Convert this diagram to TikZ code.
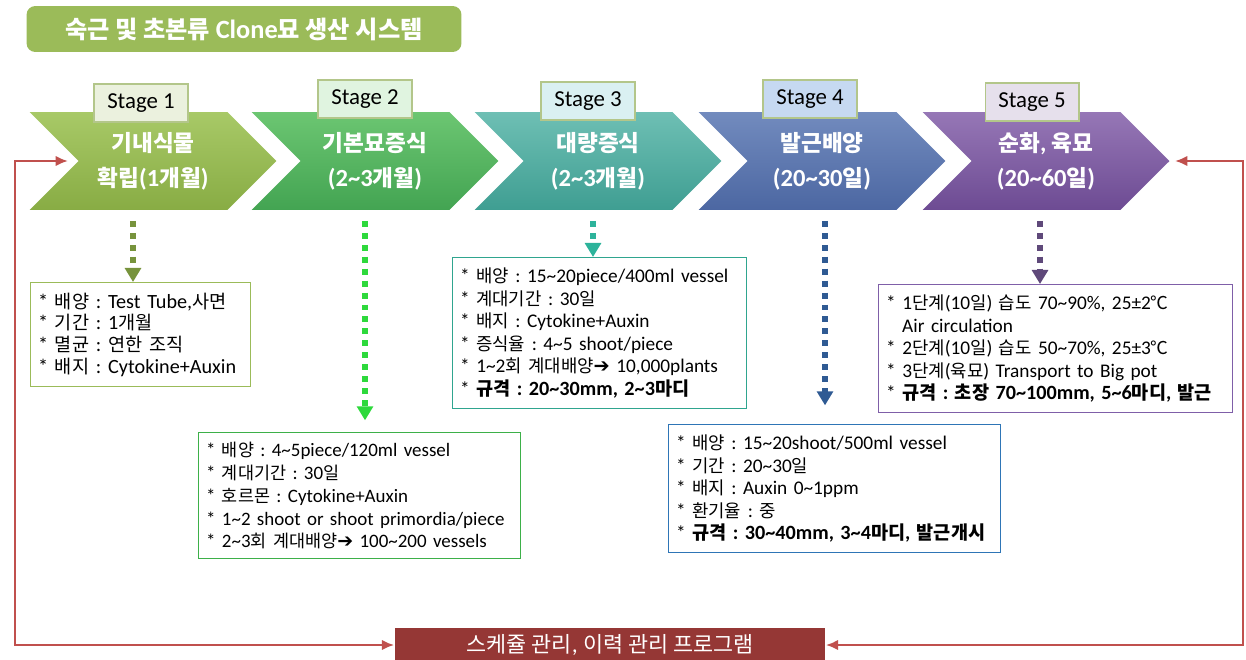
\documentclass[tikz,border=0pt]{standalone}
\usepackage{fontspec}
\setmainfont{Carlito}
\newfontfamily\latfont{Carlito}
\newfontfamily\krfont[Scale=0.92]{Noto Sans CJK KR}
\newfontfamily\symfont{DejaVu Sans}
% Hangul (and a few signs) set in the CJK face, the rest in Carlito
\XeTeXinterchartokenstate=1
\newXeTeXintercharclass\hanclass
\newXeTeXintercharclass\symclass
\newcount\hancode
\hancode="AC00
\loop
  \XeTeXcharclass\hancode=\hanclass
  \ifnum\hancode<"D7A3 \advance\hancode by 1
\repeat
\XeTeXcharclass"2103=\hanclass
\XeTeXcharclass"2794=\symclass
\XeTeXinterchartoks 0 \hanclass = {\krfont}
\XeTeXinterchartoks 4095 \hanclass = {\krfont}
\XeTeXinterchartoks \hanclass 0 = {\latfont}
\XeTeXinterchartoks 4095 0 = {\latfont}
\usepackage{tikz}
\usetikzlibrary{shapes.symbols,arrows.meta,positioning}
\definecolor{titlegreen}{HTML}{9BBB59}
\definecolor{progred}{HTML}{953735}
\definecolor{cycred}{HTML}{C0504D}
\definecolor{tagline}{HTML}{B3C68A}
% chevron shades (top / bottom)
\definecolor{sOneT}{HTML}{A8C967}\definecolor{sOneB}{HTML}{88AC44}
\definecolor{sTwoT}{HTML}{6CC672}\definecolor{sTwoB}{HTML}{43A452}
\definecolor{sThrT}{HTML}{6EBFB4}\definecolor{sThrB}{HTML}{3F9E92}
\definecolor{sFouT}{HTML}{728BBE}\definecolor{sFouB}{HTML}{4C67A2}
\definecolor{sFivT}{HTML}{9677B6}\definecolor{sFivB}{HTML}{6D4B93}
% stage tags
\definecolor{tOne}{HTML}{EBF1DE}\definecolor{tTwo}{HTML}{E0F4E0}
\definecolor{tThr}{HTML}{DAF0F2}\definecolor{tFou}{HTML}{C6D9F1}
\definecolor{tFiv}{HTML}{E6E0EC}
% detail boxes and dotted drops
\definecolor{bOne}{HTML}{9BBB59}\definecolor{dOne}{HTML}{77933C}
\definecolor{bTwo}{HTML}{3DB049}\definecolor{dTwo}{HTML}{2ED93C}
\definecolor{bThr}{HTML}{2FA58F}\definecolor{dThr}{HTML}{2DB39B}
\definecolor{bFou}{HTML}{2E75B6}\definecolor{dFou}{HTML}{2F5A93}
\definecolor{bFiv}{HTML}{7F5FA8}\definecolor{dFiv}{HTML}{5F497A}
\newcommand{\rng}{\textasciitilde}
\newcommand{\nxt}{{\symfont\bfseries ➔}}
\newcommand{\spec}[1]{{\fontsize{11.5}{12.8}\selectfont\bfseries #1}}

\begin{document}
\frenchspacing
\begin{tikzpicture}[x=0.02cm, y=-0.02cm,
  stage/.style={signal, signal from=west, signal to=east, minimum width=4.94cm,
                minimum height=1.96cm, inner sep=0pt, text=white, align=center,
                font=\fontsize{14}{20}\selectfont\bfseries},
  tag/.style={draw=tagline, line width=0.6pt, minimum width=1.88cm, minimum height=0.76cm,
              inner sep=2pt, font=\fontsize{13}{14}\selectfont},
  info/.style={draw, line width=0.8pt, fill=white, anchor=north west, align=left,
               inner xsep=0.15cm, font=\fontsize{11}{12.8}\selectfont},
  drop/.style={line width=3.4pt, dash pattern=on 3.4pt off 3.4pt, shorten <=6pt,
               -{Triangle[width=9pt,length=8pt]}},
  cycline/.style={cycred, line width=1.4pt, {Latex[length=7pt,width=6pt]}-{Latex[length=7pt,width=6pt]}}]
  \useasboundingbox (0,0) rectangle (1246,659);

  % Title
  \node[fill=titlegreen, rounded corners=5pt, minimum width=8.7cm, minimum height=0.92cm,
        text=white, font=\fontsize{15}{16}\selectfont\bfseries] (title) at (244,29)
        {숙근 및 초본류 Clone묘 생산 시스템};

  % Stages
  \node[stage, top color=sOneT, bottom color=sOneB] (s1) at (153,161) {기내식물\\확립(1개월)};
  \node[stage, top color=sTwoT, bottom color=sTwoB] (s2) at (375,161) {기본묘증식\\(2\rng3개월)};
  \node[stage, top color=sThrT, bottom color=sThrB] (s3) at (598,161) {대량증식\\(2\rng3개월)};
  \node[stage, top color=sFouT, bottom color=sFouB] (s4) at (822,161) {발근배양\\(20\rng30일)};
  \node[stage, top color=sFivT, bottom color=sFivB] (s5) at (1046,161) {순화, 육묘\\(20\rng60일)};

  \node[tag, fill=tOne] (t1) at (141,103) {Stage 1};
  \node[tag, fill=tTwo] (t2) at (365,99) {Stage 2};
  \node[tag, fill=tThr] (t3) at (588,101) {Stage 3};
  \node[tag, fill=tFou] (t4) at (810,99) {Stage 4};
  \node[tag, fill=tFiv] (t5) at (1032,102) {Stage 5};

  % Details per stage
  \node[info, draw=bOne, text width=4.1cm, minimum height=2.08cm,
        font=\fontsize{11.5}{12.4}\selectfont] (d1) at (30,282)
    {{*} 배양 : Test Tube,사면\\
     {*} 기간 : 1개월\\
     {*} 멸균 : 연한 조직\\
     {*} 배지 : Cytokine+Auxin};
  \node[info, draw=bTwo, text width=6.14cm, minimum height=2.52cm,
        font=\fontsize{10.8}{13}\selectfont] (d2) at (198,432)
    {{*} 배양 : 4\rng5piece/120ml vessel\\
     {*} 계대기간 : 30일\\
     {*} 호르몬 : Cytokine+Auxin\\
     {*} 1\rng2 shoot or shoot primordia/piece\\
     {*} 2\rng3회 계대배양\nxt\ 100\rng200 vessels};
  \node[info, draw=bThr, text width=5.58cm, minimum height=3.02cm] (d3) at (452,257)
    {{*} 배양 : 15\rng20piece/400ml vessel\\
     {*} 계대기간 : 30일\\
     {*} 배지 : Cytokine+Auxin\\
     {*} 증식율 : 4\rng5 shoot/piece\\
     {*} 1\rng2회 계대배양\nxt\ 10,000plants\\
     {*} \spec{규격 : 20\rng30mm, 2\rng3마디}};
  \node[info, draw=bFou, text width=6.34cm, minimum height=2.56cm] (d4) at (668,424)
    {{*} 배양 : 15\rng20shoot/500ml vessel\\
     {*} 기간 : 20\rng30일\\
     {*} 배지 : Auxin 0\rng1ppm\\
     {*} 환기율 : 중\\
     {*} \spec{규격 : 30\rng40mm, 3\rng4마디, 발근개시}};
  \node[info, draw=bFiv, text width=6.78cm, minimum height=2.56cm] (d5) at (878,284)
    {{*} 1단계(10일) 습도 70\rng90\%, 25±2℃\\
     \hspace*{0.9em}Air circulation\\
     {*} 2단계(10일) 습도 50\rng70\%, 25±3℃\\
     {*} 3단계(육묘) Transport to Big pot\\
     {*} \spec{규격 : 초장 70\rng100mm, 5\rng6마디, 발근}};

  % Drops from stage to details
  \draw[drop, dOne] ([xshift=-20*0.02cm]s1.south) -- ([xshift=-20*0.02cm]s1.south |- d1.north);
  \draw[drop, dTwo] ([xshift=-10*0.02cm]s2.south) -- ++(0,-210*0.02cm);
  \draw[drop, dThr] ([xshift=-5*0.02cm]s3.south) -- ([xshift=-5*0.02cm]s3.south |- d3.north);
  \draw[drop, dFou] ([xshift=3*0.02cm]s4.south) -- ++(0,-195*0.02cm);
  \draw[drop, dFiv] ([xshift=-6*0.02cm]s5.south) -- ([xshift=-6*0.02cm]s5.south |- d5.north);

  % Management program and feedback lines
  \node[fill=progred, minimum width=8.62cm, minimum height=0.68cm, text=white,
        font=\fontsize{13.5}{14}\selectfont] (prog) at (610,645) {스케쥴 관리, 이력 관리 프로그램};
  \draw[cycline] (prog.west) -| ([xshift=-63*0.02cm]s1.west) -- ([xshift=-10*0.02cm]s1.west);
  \draw[cycline] (prog.east) -| ([xshift=73*0.02cm]s5.east) -- ([xshift=5*0.02cm]s5.east);
\end{tikzpicture}
\end{document}
